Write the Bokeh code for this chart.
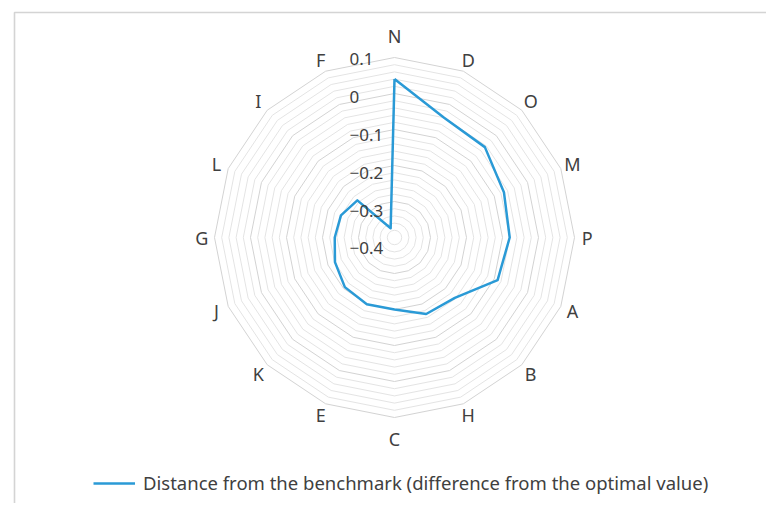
import numpy as np
from bokeh.plotting import figure
from bokeh.models import Range1d, Legend, LegendItem, ColumnDataSource
from bokeh.core.properties import value
from bokeh.embed import file_html
from bokeh.resources import INLINE

# ---------------- data ----------------
categories = ["N", "D", "O", "M", "P", "A", "B", "H", "C", "E", "K", "J", "G", "L", "I", "F"]
distance = [0.04, -0.04, -0.045, -0.071, -0.08, -0.09, -0.163, -0.17,
            -0.20, -0.199, -0.205, -0.221, -0.234, -0.239, -0.254, -0.372]
tick_values = [0.1, 0.0, -0.1, -0.2, -0.3, -0.4]
tick_labels = ["0.1", "0", "\u22120.1", "\u22120.2", "\u22120.3", "\u22120.4"]
series_name = "Distance from the benchmark (difference from the optimal value)"
axis_min, axis_max = -0.4, 0.1
minor_step = 0.02

# ---------------- layout ----------------
W, H = 766, 503
PX = 360.0            # pixels per data unit (radial)
CX, CY = 394, 237     # centre in canvas pixels (from top-left)
FONT = "Noto Sans"
TXT = "#404040"
BLUE = "#2A9AD6"

def px_to_x(px):
    return (px - CX) / PX

def py_to_y(py):
    return (CY - py) / PX

p = figure(width=W, height=H, output_backend="svg", toolbar_location=None,
           x_axis_type=None, y_axis_type=None,
           x_range=Range1d(px_to_x(0), px_to_x(W)),
           y_range=Range1d(py_to_y(H), py_to_y(0)),
           min_border=0, min_border_left=0, min_border_right=0,
           min_border_top=0, min_border_bottom=0)
p.outline_line_color = None
p.grid.visible = False
p.background_fill_color = "white"
p.border_fill_color = "white"

n = len(categories)
theta = np.arange(n) * 2 * np.pi / n

def radius(v):
    return np.asarray(v, dtype=float) - axis_min

# chart-area border (left and top edges visible)
bx, by = px_to_x(14), py_to_y(12)
p.line([bx, bx, px_to_x(W + 10)], [py_to_y(H + 10), by, by], line_color="#d4d4d4", line_width=1.6)

# rings (16-gon gridlines)
levels = np.round(np.arange(axis_min + minor_step, axis_max + 1e-9, minor_step), 4)
minor_xs, minor_ys, major_xs, major_ys = [], [], [], []
for lv in levels:
    r = radius(lv)
    xs = list(r * np.sin(theta)) + [r * np.sin(theta[0])]
    ys = list(r * np.cos(theta)) + [r * np.cos(theta[0])]
    if abs(round(lv / 0.1) * 0.1 - lv) < 1e-6:
        major_xs.append(xs); major_ys.append(ys)
    else:
        minor_xs.append(xs); minor_ys.append(ys)
p.multi_line(minor_xs, minor_ys, line_color="#e4e4e4", line_width=1)
p.multi_line(major_xs, major_ys, line_color="#d3d3d3", line_width=1)

# data series
rv = radius(distance)
dx = list(rv * np.sin(theta)) + [rv[0] * np.sin(theta[0])]
dy = list(rv * np.cos(theta)) + [rv[0] * np.cos(theta[0])]
series = p.line(dx, dy, line_color=BLUE, line_width=2.5, line_join="round")

# category labels
lab_r = []
for t in theta:
    extra = 0.025 if abs(np.cos(t)) > 0.99 else 0.0
    lab_r.append(0.535 + extra)
lab_r = np.array(lab_r)
cat_src = ColumnDataSource(dict(x=lab_r * np.sin(theta), y=lab_r * np.cos(theta), t=categories))
p.text("x", "y", text="t", source=cat_src, text_align="center", text_baseline="middle",
       text_font=value(FONT), text_font_size="18px", text_color=TXT)

# radial value labels
tick_x = [px_to_x(349)] * len(tick_values)
tick_y = [1.05 * radius(v) - 0.03 for v in tick_values]
tick_src = ColumnDataSource(dict(x=tick_x, y=tick_y, t=tick_labels))
p.text("x", "y", text="t", source=tick_src, text_align="left", text_baseline="middle",
       text_font=value(FONT), text_font_size="17px", text_color=TXT)

# legend
legend = Legend(items=[LegendItem(label=series_name, renderers=[series])],
                location=(93, 8), orientation="horizontal",
                glyph_width=42, glyph_height=20, label_height=20, label_standoff=8,
                padding=0, margin=0, border_line_color=None, background_fill_alpha=0,
                label_text_font=FONT, label_text_font_size="18.5px", label_text_color=TXT)
p.add_layout(legend)

open("out.html", "w").write(file_html(p, INLINE))
